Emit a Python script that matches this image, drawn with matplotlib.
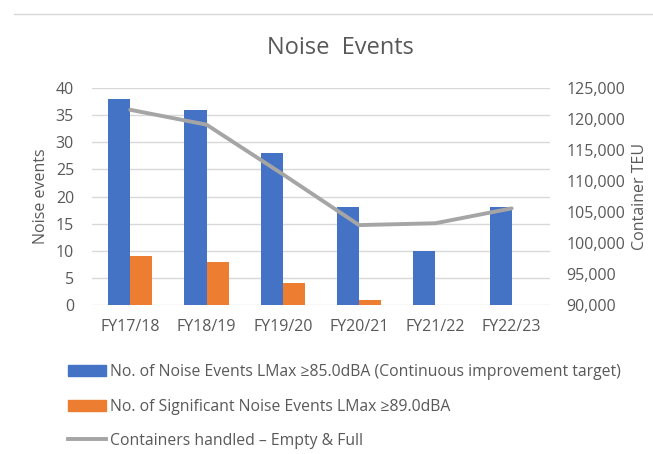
import numpy as np
import matplotlib.pyplot as plt
from matplotlib.lines import Line2D
from matplotlib.ticker import FuncFormatter

#######################################################
# Data
#######################################################

years = ['FY17/18', 'FY18/19', 'FY19/20', 'FY20/21', 'FY21/22', 'FY22/23']
noise_events = [38, 36, 28, 18, 10, 18]
significant_events = [9, 8, 4, 1, 0, 0]
containers_teu = [121500, 119100, 111100, 102900, 103200, 105600]

label_noise = 'No. of Noise Events LMax \u226585.0dBA (Continuous improvement target)'
label_sig = 'No. of Significant Noise Events LMax \u226589.0dBA'
label_teu = 'Containers handled \u2013 Empty & Full'

#######################################################
# Style
#######################################################

plt.rcParams['font.family'] = ['Open Sans', 'DejaVu Sans']
text_col = '#595959'
blue = '#4472c4'
orange = '#ed7d31'
grey = '#a5a5a5'
grid_col = '#d9d9d9'

#######################################################
# Figure
#######################################################

fig = plt.figure(figsize=(6.53, 4.54), dpi=100)
ax = fig.add_axes([0.141, 0.328, 0.701, 0.478])
ax2 = ax.twinx()

x = np.arange(len(years))
w = 0.29
ax.bar(x - w / 2, noise_events, w, color=blue, label=label_noise, zorder=2)
ax.bar(x + w / 2, significant_events, w, color=orange, label=label_sig, zorder=2)
ax2.plot(x, containers_teu, color=grey, lw=2.8, solid_capstyle='round', label=label_teu)

ax.set_xlim(-0.5, len(years) - 0.5)
ax.set_ylim(0, 40)
ax.set_yticks(range(0, 41, 5))
ax2.set_ylim(90000, 125000)
ax2.set_yticks(range(90000, 125001, 5000))
ax2.yaxis.set_major_formatter(FuncFormatter(lambda v, p: f'{int(v):,}'))

ax.set_xticks(x)
ax.set_xticklabels(years)
ax.yaxis.grid(True, color=grid_col, lw=1, zorder=0)
ax.set_axisbelow(True)

for a in (ax, ax2):
    for s in a.spines.values():
        s.set_visible(False)
    a.tick_params(length=0, colors=text_col, labelsize=11.5)
ax.tick_params(axis='x', pad=10)
ax.tick_params(axis='y', pad=13)
ax2.tick_params(axis='y', pad=12)

ax.set_ylabel('Noise events', color=text_col, fontsize=11.5, labelpad=5)
ax2.set_ylabel('Container TEU', color=text_col, fontsize=11.5, labelpad=5)

fig.text(0.522, 0.894, 'Noise  Events', ha='center', va='center', fontsize=17, color=text_col)

# thin border line along the top of the chart
fig.add_artist(Line2D([0.021, 1.0], [0.969, 0.969], color=grid_col, lw=1))

handles = [
    plt.Rectangle((0, 0), 1, 1, color=blue),
    plt.Rectangle((0, 0), 1, 1, color=orange),
    Line2D([0], [0], color=grey, lw=2.8),
]
leg = fig.legend(handles, [label_noise, label_sig, label_teu], loc='upper left',
                 bbox_to_anchor=(0.095, 0.211), frameon=False, fontsize=11.3,
                 handlelength=2.4, handletextpad=0.25, labelspacing=1.15,
                 borderaxespad=0)
for t in leg.get_texts():
    t.set_color(text_col)

fig.savefig('out.png', dpi=100)
